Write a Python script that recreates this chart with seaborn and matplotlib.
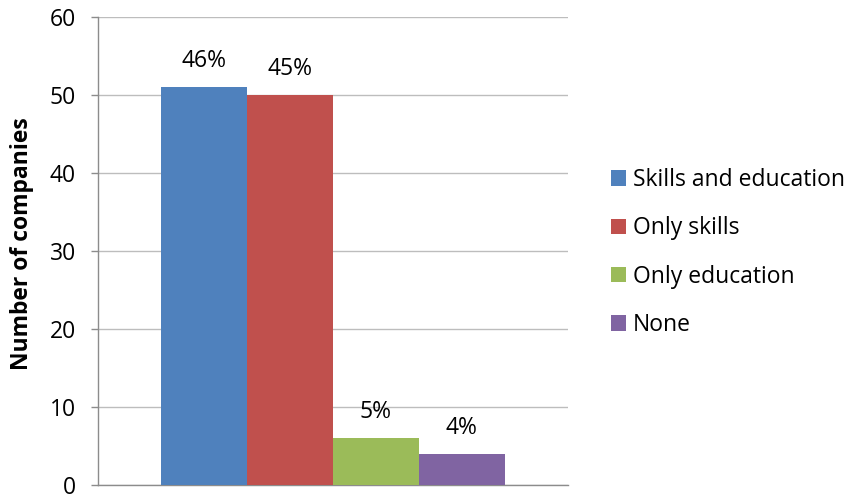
import matplotlib
matplotlib.use("Agg")
import matplotlib.pyplot as plt
import matplotlib.patches as mpatches
import seaborn as sns
import pandas as pd

categories = ["Skills and education", "Only skills", "Only education", "None"]
counts = [51, 50, 6, 4]
shares = ["46%", "45%", "5%", "4%"]
colors = ["#4F81BD", "#C0504D", "#9BBB59", "#8064A2"]
y_ticks = [0, 10, 20, 30, 40, 50, 60]

FS = 16.5

sns.set_theme(style="white")
plt.rcParams["font.family"] = ["Open Sans", "DejaVu Sans"]
plt.rcParams["text.color"] = "black"

df = pd.DataFrame({"group": [""] * len(categories),
                   "category": categories,
                   "count": counts})

fig = plt.figure(figsize=(8.47, 4.97), dpi=100)
ax = fig.add_axes([0.1157, 0.0241, 0.5549, 0.9417])

sns.barplot(data=df, x="group", y="count", hue="category",
            hue_order=categories, palette=colors, saturation=1,
            width=0.73, gap=0, legend=False, ax=ax, zorder=3,
            linewidth=0, edgecolor="none")

for cont, lab in zip(ax.containers, shares):
    ax.bar_label(cont, labels=[lab], padding=10, fontsize=FS, color="black")

ax.set_ylim(0, 60)
ax.set_xlim(-0.5, 0.5)
ax.set_yticks(y_ticks)
ax.set_yticklabels([str(t) for t in y_ticks], fontsize=FS, color="black")
ax.set_xticks([])
ax.set_xlabel("")
ax.set_ylabel("Number of companies", fontsize=FS, fontweight="bold",
              color="black")
ax.yaxis.set_label_coords(-0.136, 0.515)

ax.grid(axis="y", color="#BDBDBD", linewidth=1, zorder=0)
for side in ["top", "right"]:
    ax.spines[side].set_visible(False)
for side in ["left", "bottom"]:
    ax.spines[side].set_color("#8C8C8C")
    ax.spines[side].set_linewidth(1)
ax.tick_params(axis="y", which="major", length=5, width=1, color="#8C8C8C",
               left=True, pad=11)

handles = [mpatches.Patch(facecolor=c, edgecolor="none") for c in colors]
leg = fig.legend(handles, categories, loc="center left",
                 bbox_to_anchor=(0.7214, 0.492), frameon=False, fontsize=FS,
                 handlelength=0.65, handleheight=0.65, handletextpad=0.3,
                 labelspacing=1.06, borderpad=0, borderaxespad=0)
for t in leg.get_texts():
    t.set_color("black")

fig.savefig("out.png", dpi=100)
